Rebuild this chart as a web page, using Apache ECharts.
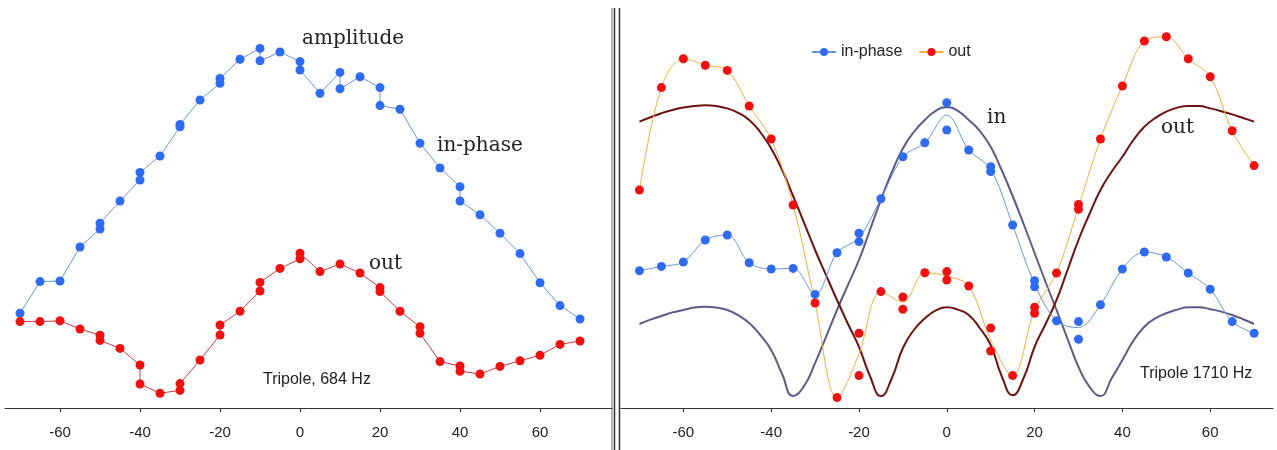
<!DOCTYPE html>
<html>
<head>
<meta charset="utf-8">
<script src="https://cdn.jsdelivr.net/npm/echarts@6/dist/echarts.min.js"></script>
<style>
html,body{margin:0;padding:0;background:#fff;}
#c{width:1277px;height:450px;}
</style>
</head>
<body>
<div id="c"></div>
<script>
// ---- tick labels ----
const xTicks = [-60, -40, -20, 0, 20, 40, 60];

// ---- left panel: Tripole, 684 Hz ----
const leftInX = [-70,-65,-60,-55,-50,-50,-45,-40,-40,-35,-30,-30,-25,-20,-20,-15,-10,-10,-5,0,0,5,10,10,15,20,20,25,30,35,40,40,45,50,55,60,65,70];
const leftInY = [23.7,31.6,31.75,40.25,44.75,46.2,51.75,57,58.9,63,70.3,70.9,77,81.2,82.4,87.2,89.9,86.8,89,86.6,84.5,78.7,83.9,79.8,82.8,80.1,75.6,74.7,66.2,60,55.3,51.75,48.3,43.7,38.6,31.3,25.6,22.25];
const leftOutX = [-70,-65,-60,-55,-50,-50,-45,-40,-40,-35,-30,-30,-25,-20,-20,-15,-10,-10,-5,0,0,5,10,15,20,20,25,30,30,35,40,40,45,50,55,60,65,70];
const leftOutY = [21.6,21.6,21.8,19.75,18.2,16.9,14.9,10.75,6,3.7,4.4,6.1,12,18.25,20.75,24.2,29.25,31.4,34.9,37.3,38.7,34.1,36,33.75,30.1,29.1,24.2,20.3,18.7,11.6,10.5,9.2,8.5,10.4,11.8,13.2,15.9,16.75];

// ---- right panel: Tripole 1710 Hz ----
const rInPtsX = [-70,-65,-60,-55,-50,-45,-40,-35,-30,-25,-20,-20,-15,-10,-5,0,0,5,10,10,15,20,20,25,30,30,35,40,45,50,55,60,65,70];
const rInPtsY = [34.3,35.4,36.5,42,43.25,36.3,34.75,34.9,28.4,38.8,43.7,41.6,52.3,62.8,66.3,76.3,69.5,64.5,60.3,59.1,45.75,31.8,30.3,21.8,21.6,17.2,25.8,34.75,39,37.75,33.75,29.7,21.6,18.7];
const rOutPtsX = [-70,-65,-60,-55,-50,-45,-40,-35,-30,-25,-20,-20,-15,-10,-10,-5,0,0,5,10,10,15,20,20,25,30,30,35,40,45,50,55,60,65,70];
const rOutPtsY = [54.5,80.1,87.3,85.7,84.4,75.5,67.25,50.75,26.25,2.6,18.7,8.1,29.1,27.75,24.7,33.8,34.1,32,30.5,20,14.25,8.1,25.2,23.7,33.75,50.9,49.7,67.25,80.5,91.75,92.8,87.3,82.8,69.3,60.6];
const rLineX = [-70,-65,-60,-55,-50,-45,-40,-35,-30,-25,-20,-15,-10,-5,0,5,10,15,20,25,30,35,40,45,50,55,60,65,70];
const rInLine = [34.3,35.4,36.5,42,43.25,36.3,34.75,34.9,28.4,38.8,42.6,52.3,62.8,66.3,73.2,64.5,59.7,45.75,31,21.8,20.1,25.8,34.75,39,37.75,33.75,29.7,21.6,18.7];
const rOutLine = [54.5,80.1,87.3,85.7,84.4,75.5,67.25,50.75,26.25,2.6,13.5,29.1,26.5,33.8,33,30.5,17,8.1,24.5,33.75,50.3,67.25,80.5,91.75,92.8,87.3,82.8,69.3,60.6];
// theory curves, read every 2.5 units from -70 to 70
const thX = [-70,-67.5,-65,-62.5,-60,-57.5,-55,-52.5,-50,-47.5,-45,-42.5,-40,-37.5,-35,-32.5,-30,-27.5,-25,-22.5,-20,-17.5,-15,-12.5,-10,-7.5,-5,-2.5,0,2.5,5,7.5,10,12.5,15,17.5,20,22.5,25,27.5,30,32.5,35,37.5,40,42.5,45,47.5,50,52.5,55,57.5,60,62.5,65,67.5,70];
const thInY = [21,22.1,23,23.9,24.5,25.1,25.3,25.1,24.5,23.2,21.25,18.3,14.5,8.5,3,5.5,11.2,17.8,24.5,30.8,37,44.5,52,59,64.9,69,72,74.3,75.2,74.3,72,69.3,65.3,59.5,53,46,38.75,31.5,24.5,17.3,10.3,5.3,3,7.3,12,16.8,20.3,22.4,23.7,24.6,25.2,25.2,24.7,24.1,23.25,22.2,21];
const thOutY = [71.6,72.7,73.7,74.5,75.1,75.5,75.7,75.5,74.9,73.8,72,69,64.9,59.5,53,46.3,39.5,33.2,27,21,15.3,8,3,7.5,15,19.5,22.4,24.4,25.2,24.6,23.25,20,15.75,8,3.2,7.5,15.3,21,27,34.5,42,48.5,54.5,59,62.8,67,70.3,72.5,74.1,75.1,75.5,75.5,74.9,74.2,73.4,72.5,71.6];

const zip = (xs, ys) => xs.map((x, i) => [x, ys[i]]);

const BLUE = '#2f6bf2', BLUE_LINE = '#6a95dd';
const RED = '#f01010', RED_LINE = '#cc3a3a', ORANGE = '#f2b041';
const TH_IN = '#5f5b88', TH_OUT = '#6d1212';

const sans = 'Liberation Sans';
const serif = '"DejaVu Serif"';

function xAxisCfg(grid, min, max) {
  return {
    type: 'value', gridIndex: grid, min: min, max: max,
    axisLine: { onZero: false, lineStyle: { color: '#333', width: 1 } },
    axisTick: { show: true, length: 4, customValues: xTicks, lineStyle: { color: '#333' } },
    axisLabel: { customValues: xTicks, margin: 17, fontSize: 15, fontFamily: sans, color: '#222' },
    splitLine: { show: false }
  };
}
function yAxisCfg(grid) {
  return { type: 'value', gridIndex: grid, min: 0, max: 100, show: false, splitLine: { show: false } };
}
const ptStyle = (c) => ({ color: c, opacity: 1 });

const chart = echarts.init(document.getElementById('c'), null, { renderer: 'canvas' });
chart.setOption({
  animation: false,
  backgroundColor: '#fff',
  grid: [
    { left: 5, top: 8, width: 607, height: 400, outerBoundsMode: 'none' },
    { left: 621, top: 8, width: 652, height: 400, outerBoundsMode: 'none' }
  ],
  xAxis: [xAxisCfg(0, -73.75, 78), xAxisCfg(1, -74.2, 74.3)],
  yAxis: [yAxisCfg(0), yAxisCfg(1)],
  legend: {
    data: ['in-phase', 'out'],
    left: 806, top: 39,
    itemWidth: 24, itemHeight: 10, itemGap: 16,
    textStyle: { fontSize: 16, fontFamily: sans, color: '#222' },
    selectedMode: false
  },
  series: [
    // left panel
    { name: 'left in-phase', type: 'line', xAxisIndex: 0, yAxisIndex: 0, data: zip(leftInX, leftInY),
      symbol: 'circle', symbolSize: 9, lineStyle: { color: BLUE_LINE, width: 1 }, itemStyle: ptStyle(BLUE), z: 3 },
    { name: 'left out', type: 'line', xAxisIndex: 0, yAxisIndex: 0, data: zip(leftOutX, leftOutY),
      symbol: 'circle', symbolSize: 9, lineStyle: { color: RED_LINE, width: 1 }, itemStyle: ptStyle(RED), z: 3 },
    // right panel theory curves
    { name: 'in theory', type: 'line', xAxisIndex: 1, yAxisIndex: 1, data: zip(thX, thInY),
      smooth: 0.5, symbol: 'none', lineStyle: { color: TH_IN, width: 2 }, z: 2 },
    { name: 'out theory', type: 'line', xAxisIndex: 1, yAxisIndex: 1, data: zip(thX, thOutY),
      smooth: 0.5, symbol: 'none', lineStyle: { color: TH_OUT, width: 2 }, z: 2 },
    // right panel measured lines
    { name: 'in-phase', type: 'line', xAxisIndex: 1, yAxisIndex: 1, data: zip(rLineX, rInLine),
      smooth: 0.35, symbol: 'circle', symbolSize: 8, showSymbol: false,
      lineStyle: { color: BLUE_LINE, width: 1 }, itemStyle: ptStyle(BLUE), z: 3 },
    { name: 'out', type: 'line', xAxisIndex: 1, yAxisIndex: 1, data: zip(rLineX, rOutLine),
      smooth: 0.35, symbol: 'circle', symbolSize: 8, showSymbol: false,
      lineStyle: { color: ORANGE, width: 1 }, itemStyle: ptStyle(RED), z: 3 },
    // right panel measured points
    { name: 'in-phase points', type: 'scatter', xAxisIndex: 1, yAxisIndex: 1, data: zip(rInPtsX, rInPtsY),
      symbol: 'circle', symbolSize: 9, itemStyle: ptStyle(BLUE), z: 4 },
    { name: 'out points', type: 'scatter', xAxisIndex: 1, yAxisIndex: 1, data: zip(rOutPtsX, rOutPtsY),
      symbol: 'circle', symbolSize: 9, itemStyle: ptStyle(RED), z: 4 }
  ],
  graphic: [
    { type: 'line', shape: { x1: 612, y1: 8, x2: 612, y2: 450 }, style: { stroke: '#b5b5b5', lineWidth: 2 }, silent: true },
    { type: 'line', shape: { x1: 614.5, y1: 8, x2: 614.5, y2: 450 }, style: { stroke: '#333', lineWidth: 1.5 }, silent: true },
    { type: 'line', shape: { x1: 619.5, y1: 8, x2: 619.5, y2: 450 }, style: { stroke: '#333', lineWidth: 1.5 }, silent: true },
    { type: 'text', x: 302, y: 39, style: { text: 'amplitude', font: '20px ' + serif, fill: '#222', align: 'left', verticalAlign: 'middle' }, silent: true },
    { type: 'text', x: 437, y: 146, style: { text: 'in-phase', font: '20px ' + serif, fill: '#222', align: 'left', verticalAlign: 'middle' }, silent: true },
    { type: 'text', x: 369, y: 264, style: { text: 'out', font: '20px ' + serif, fill: '#222', align: 'left', verticalAlign: 'middle' }, silent: true },
    { type: 'text', x: 263, y: 380, style: { text: 'Tripole, 684 Hz', font: '16px ' + sans, fill: '#222', align: 'left', verticalAlign: 'middle' }, silent: true },
    { type: 'text', x: 987, y: 118, style: { text: 'in', font: '20px ' + serif, fill: '#222', align: 'left', verticalAlign: 'middle' }, silent: true },
    { type: 'text', x: 1161, y: 128, style: { text: 'out', font: '20px ' + serif, fill: '#222', align: 'left', verticalAlign: 'middle' }, silent: true },
    { type: 'text', x: 1140, y: 373.5, style: { text: 'Tripole 1710 Hz', font: '16px ' + sans, fill: '#222', align: 'left', verticalAlign: 'middle' }, silent: true }
  ]
});
</script>
</body>
</html>
